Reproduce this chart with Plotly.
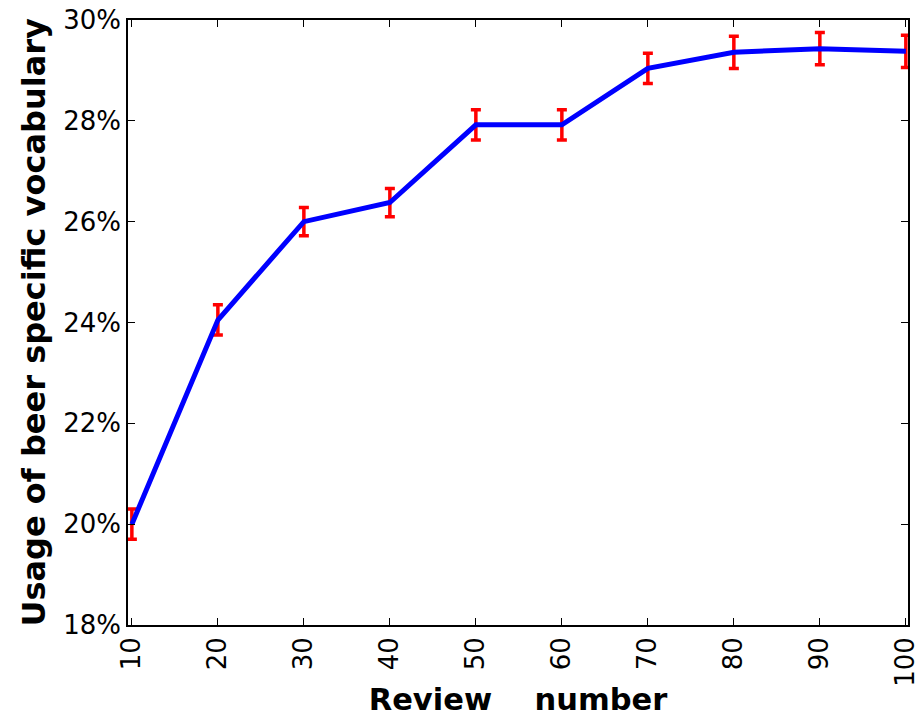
import plotly.graph_objects as go

# Review number vs. share of beer-specific vocabulary (in %)
review_number = [10, 20, 30, 40, 50, 60, 70, 80, 90, 100]
vocab_usage = [20.0, 24.05, 26.0, 26.38, 27.92, 27.92, 29.04, 29.36, 29.43, 29.38]
usage_error = [0.3, 0.3, 0.28, 0.28, 0.3, 0.3, 0.3, 0.32, 0.32, 0.32]

y_ticks = [18, 20, 22, 24, 26, 28, 30]
y_tick_labels = ["18%", "20%", "22%", "24%", "26%", "28%", "30%"]
x_ticks = [10, 20, 30, 40, 50, 60, 70, 80, 90, 100]
x_tick_labels = ["10", "20", "30", "40", "50", "60", "70", "80", "90", "100"]

fig = go.Figure()

# error bars underneath
fig.add_trace(go.Scatter(
    x=review_number, y=vocab_usage, mode="markers",
    marker=dict(size=0.1, color="rgba(0,0,0,0)"),
    error_y=dict(type="data", array=usage_error, visible=True,
                 color="#ff0000", thickness=3.5, width=5),
    showlegend=False, hoverinfo="skip",
))
# mean curve on top
fig.add_trace(go.Scatter(
    x=review_number, y=vocab_usage, mode="lines",
    line=dict(color="#0000ff", width=5),
    showlegend=False,
))

axis_common = dict(
    showgrid=False, zeroline=False, automargin=False,
    showline=True, linecolor="black", linewidth=1.5,
    mirror="ticks", ticks="inside", ticklen=7, tickwidth=1.2, tickcolor="black",
    tickfont=dict(family="DejaVu Sans", size=26, color="black"),
)

fig.update_xaxes(
    range=[9.55, 100.25], tickmode="array", tickvals=x_ticks, ticktext=x_tick_labels,
    tickangle=-90,
    title=dict(text="Review\u00a0\u00a0\u00a0\u00a0number",
               font=dict(family="DejaVu Sans", size=30.5, color="black", weight="bold")),
    **axis_common,
)
fig.update_yaxes(
    range=[18, 30], tickmode="array", tickvals=y_ticks, ticktext=y_tick_labels,
    **axis_common,
)

# vertical axis title
fig.add_annotation(
    text="Usage of beer specific vocabulary", textangle=-90,
    xref="paper", yref="paper", x=(33 - 128) / 780, y=0.5,
    xanchor="center", yanchor="middle", showarrow=False,
    font=dict(family="DejaVu Sans", size=32, color="black", weight="bold"),
)

fig.update_layout(
    width=923, height=717,
    margin=dict(l=128, r=15, t=20, b=92),
    paper_bgcolor="white", plot_bgcolor="white",
    showlegend=False,
)

fig.write_html("out.html")
